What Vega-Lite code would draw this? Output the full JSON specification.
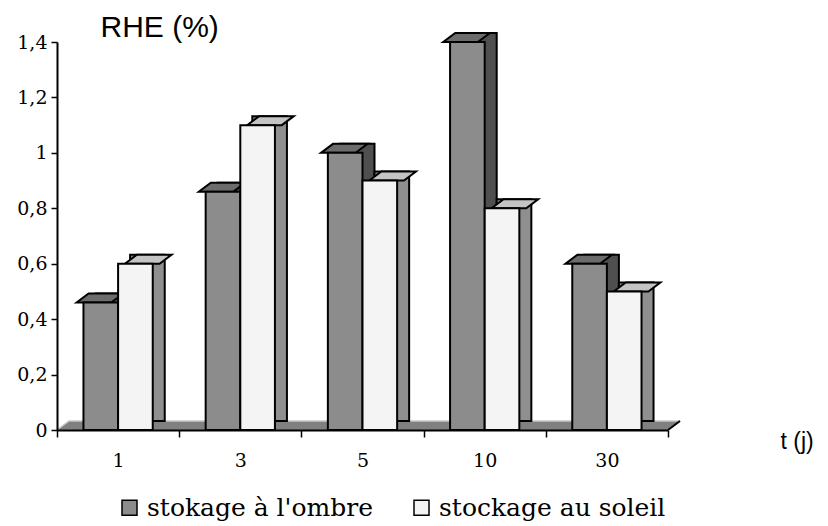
{
  "$schema": "https://vega.github.io/schema/vega-lite/v6.json",
  "width": 611,
  "height": 388,
  "autosize": {"type": "none"},
  "padding": {"left": 57, "top": 42, "right": 160, "bottom": 96},
  "background": "white",
  "config": {"view": {"stroke": null}},
  "data": {
    "values": [
      {"t": "1", "serie": "stokage à l'ombre", "rhe": 0.46},
      {"t": "1", "serie": "stockage au soleil", "rhe": 0.6},
      {"t": "3", "serie": "stokage à l'ombre", "rhe": 0.86},
      {"t": "3", "serie": "stockage au soleil", "rhe": 1.1},
      {"t": "5", "serie": "stokage à l'ombre", "rhe": 1.0},
      {"t": "5", "serie": "stockage au soleil", "rhe": 0.9},
      {"t": "10", "serie": "stokage à l'ombre", "rhe": 1.4},
      {"t": "10", "serie": "stockage au soleil", "rhe": 0.8},
      {"t": "30", "serie": "stokage à l'ombre", "rhe": 0.6},
      {"t": "30", "serie": "stockage au soleil", "rhe": 0.5}
    ]
  },
  "encoding": {
    "x": {
      "field": "t",
      "type": "nominal",
      "scale": {"domain": ["1", "3", "5", "10", "30"], "paddingInner": 0, "paddingOuter": 0},
      "axis": {
        "zindex": 1,
        "domainColor": "black",
        "domainWidth": 2,
        "tickColor": "black",
        "tickWidth": 1.5,
        "tickSize": 7,
        "tickBand": "extent",
        "labelAngle": 0,
        "labelFont": "DejaVu Serif",
        "labelFontSize": 19,
        "labelColor": "black",
        "labelPadding": 14,
        "title": "t (j)",
        "titleFont": "Liberation Sans",
        "titleFontSize": 23,
        "titleFontWeight": "normal",
        "titleColor": "black",
        "titleAlign": "left",
        "titleBaseline": "alphabetic",
        "titleAnchor": null,
        "titleX": 723,
        "titleY": 18
      }
    },
    "y": {
      "field": "rhe",
      "type": "quantitative",
      "scale": {"domain": [0, 1.4], "nice": false, "zero": true},
      "axis": {
        "zindex": 1,
        "values": [0, 0.2, 0.4, 0.6, 0.8, 1, 1.2, 1.4],
        "grid": false,
        "domainColor": "black",
        "domainWidth": 2,
        "tickColor": "black",
        "tickWidth": 1.5,
        "tickSize": 6,
        "labelFont": "DejaVu Serif",
        "labelFontSize": 19,
        "labelColor": "black",
        "labelPadding": 4,
        "labelExpr": "replace(format(datum.value, '~g'), '.', ',')",
        "title": "RHE (%)",
        "titleFont": "Liberation Sans",
        "titleFontSize": 30,
        "titleFontWeight": "normal",
        "titleColor": "black",
        "titleAngle": 0,
        "titleAlign": "left",
        "titleBaseline": "alphabetic",
        "titleAnchor": null,
        "titleX": 43,
        "titleY": -6
      }
    }
  },
  "resolve": {"scale": {"xOffset": "independent"}},
  "layer": [
    {
      "transform": [{"filter": "datum.t == '5' && indexof(datum.serie, 'ombre') >= 0"}],
      "mark": {
        "type": "point",
        "shape": "M-1,0L1,0L1.0393,-0.0295L-0.9607,-0.0295Z",
        "size": 373321,
        "filled": true,
        "fill": "#808080",
        "strokeWidth": 0,
        "opacity": 1
      },
      "encoding": {"x": {"datum": "5"}, "y": {"datum": 0}}
    },
    {
      "transform": [{"filter": "datum.t == '5' && indexof(datum.serie, 'ombre') >= 0"}],
      "mark": {
        "type": "point",
        "shape": "M-1,0L-0.9607,-0.0295L1.0393,-0.0295",
        "size": 373321,
        "filled": false,
        "fill": "transparent",
        "stroke": "#c8c8c8",
        "strokeWidth": 1.5,
        "opacity": 1
      },
      "encoding": {"x": {"datum": "5"}, "y": {"datum": 0}}
    },
    {
      "transform": [{"filter": "datum.t == '5' && indexof(datum.serie, 'ombre') >= 0"}],
      "mark": {
        "type": "point",
        "shape": "M1,0L1.0393,-0.0295",
        "size": 373321,
        "filled": false,
        "fill": "transparent",
        "stroke": "black",
        "strokeWidth": 2,
        "opacity": 1
      },
      "encoding": {"x": {"datum": "5"}, "y": {"datum": 0}}
    },
    {
      "mark": {
        "type": "bar",
        "yOffset": -9,
        "stroke": "black",
        "strokeWidth": 2,
        "strokeJoin": "miter"
      },
      "encoding": {
        "xOffset": {
          "field": "serie",
          "scale": {"domain": ["stokage à l'ombre", "stockage au soleil"], "paddingInner": 0, "paddingOuter": 0.764, "range": [12, 134.2]}
        },
        "fill": {"condition": {"test": "indexof(datum.serie, 'ombre') >= 0", "value": "#4f4f4f"}, "value": "#8f8f8f"}
      }
    },
    {
      "mark": {
        "type": "point",
        "shape": "M-0.866,0L0.866,0L1.466,-0.45L-0.266,-0.45Z",
        "size": 1600,
        "filled": true,
        "stroke": "black",
        "strokeWidth": 2,
        "strokeJoin": "miter",
        "opacity": 1
      },
      "encoding": {
        "xOffset": {"field": "serie", "scale": {"domain": ["stokage à l'ombre", "stockage au soleil"], "paddingInner": 0, "paddingOuter": 0.764}},
        "fill": {"condition": {"test": "indexof(datum.serie, 'ombre') >= 0", "value": "#6c6c6c"}, "value": "#c4c4c4"}
      }
    },
    {
      "mark": {"type": "bar", "stroke": "black", "strokeWidth": 2, "strokeJoin": "miter"},
      "encoding": {
        "xOffset": {"field": "serie", "scale": {"domain": ["stokage à l'ombre", "stockage au soleil"], "paddingInner": 0, "paddingOuter": 0.764}},
        "fill": {
          "field": "serie",
          "type": "nominal",
          "scale": {"domain": ["stokage à l'ombre", "stockage au soleil"], "range": ["#8c8c8c", "#f4f4f4"]},
          "legend": {
            "title": null,
            "orient": "none",
            "direction": "horizontal",
            "legendX": 60,
            "legendY": 453,
            "symbolType": "square",
            "symbolSize": 225,
            "symbolStrokeColor": "black",
            "symbolStrokeWidth": 1.5,
            "symbolOpacity": 1,
            "labelFont": "DejaVu Serif",
            "labelFontSize": 25,
            "labelColor": "black",
            "labelOffset": 5,
            "columnPadding": 36,
            "labelLimit": 400
          }
        }
      }
    }
  ]
}
